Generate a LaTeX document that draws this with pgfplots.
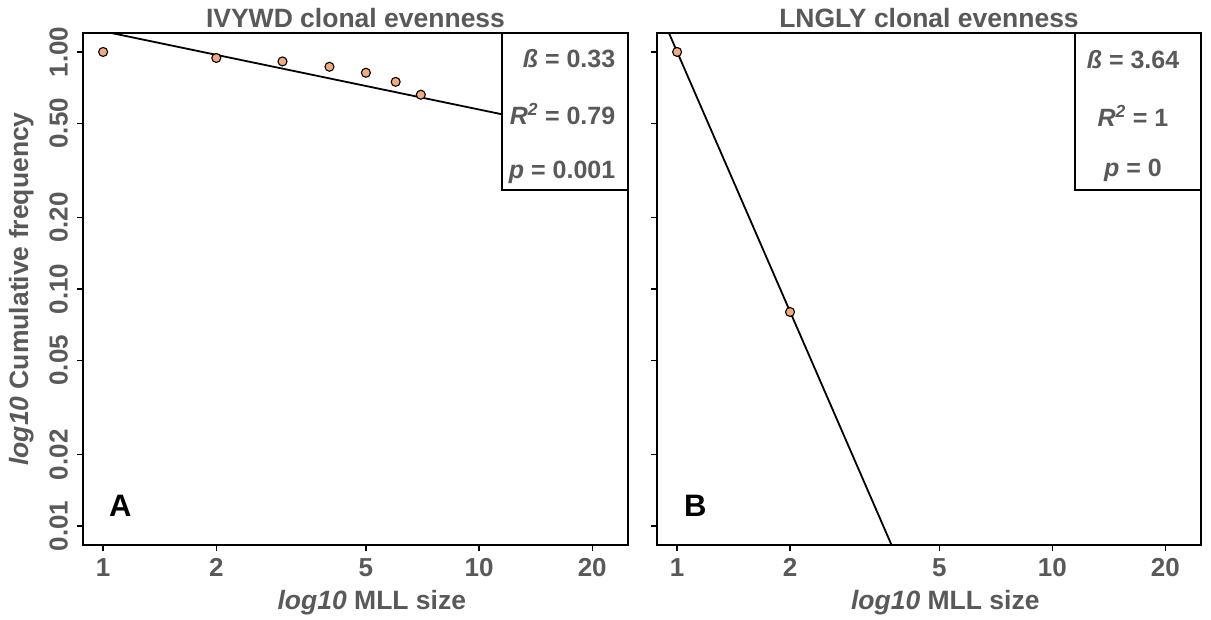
\documentclass[border=0pt]{standalone}
\usepackage{pgfplots}
\pgfplotsset{compat=1.18}
\usepackage{pgfplotstable}
\usepackage{fontspec}
\setmainfont{Liberation Sans}
\definecolor{labgrey}{RGB}{89,89,89}
\definecolor{peach}{RGB}{244,170,125}
\newcommand\fs[1]{\fontsize{#1}{#1}\selectfont}

% cumulative frequency of MLL sizes
\pgfplotstableread{
x y
1 1.000
2 0.943
3 0.912
4 0.866
5 0.817
6 0.748
7 0.660
}\ivywdpts
% fitted power law, slope -0.33
\pgfplotstableread{
x y
0.884 1.273
24.9 0.423
}\ivywdfit
\pgfplotstableread{
x y
1 1.000
2 0.080
}\lnglypts
% fitted power law, slope -3.64
\pgfplotstableread{
x y
0.884 1.569
4.0 0.00644
}\lnglyfit

\begin{document}
\begin{tikzpicture}[x=1pt,y=1pt]
\path (0,0) rectangle (1211,619);

\begin{axis}[at={(83pt,74pt)}, anchor=south west,
    xmode=log, ymode=log,
    scale only axis, width=545pt, height=512pt,
    xmin=0.884, xmax=24.9, ymin=0.00832, ymax=1.202,
    xtick={1,2,5,10,20}, xticklabels={1,2,5,10,20},
    ytick={0.01,0.02,0.05,0.1,0.2,0.5,1},
    yticklabels={0.01,0.02,0.05,0.10,0.20,0.50,1.00},
    xminorticks=false, yminorticks=false,
    xtick pos=left, ytick pos=left,
    tick align=outside, major tick length=6pt,
    major tick style={black, line width=1.3pt},
    axis line style={line width=2pt},
    tick label style={font=\fs{26}\bfseries, text=labgrey},
    yticklabel style={xshift=-9pt, rotate=90, anchor=south, inner sep=0pt},
    xticklabel style={anchor=north, inner sep=0pt, yshift=-7pt},
    clip mode=individual,
    title style={at={(axis description cs:0.5,1)}, anchor=base, yshift=0pt,
      font=\fs{26.5}\bfseries, text=labgrey},
    xlabel style={at={(axis description cs:0.53,0)}, anchor=base, yshift=-64pt,
      font=\fs{26.5}\bfseries, text=labgrey},
    ylabel style={at={(axis description cs:-0.1009,0.5)}, rotate=0, anchor=base,
      font=\fs{26.5}\bfseries, text=labgrey},
    title={IVYWD clonal evenness},
    xlabel={\textit{log10} MLL size},
    ylabel={\textit{log10} Cumulative frequency}]
\addplot[black, line width=1.8pt, no markers] table {\ivywdfit};
\addplot[only marks, mark=*, mark size=4.5pt,
    mark options={fill=peach, draw=black, line width=1.1pt}] table {\ivywdpts};
\draw[fill=white, line width=1.5pt] (rel axis cs:0.769,0.693) rectangle (rel axis cs:1,1);
\node[font=\fs{25}\bfseries, text=labgrey, anchor=base east, inner sep=0pt]
  at (rel axis cs:0.977,0.9326) {\textit{ß} = 0.33};
\node[font=\fs{25}\bfseries, text=labgrey, anchor=base east, inner sep=0pt]
  at (rel axis cs:0.977,0.8213) {\textit{R}\textsuperscript{\textit{2}} = 0.79};
\node[font=\fs{25}\bfseries, text=labgrey, anchor=base east, inner sep=0pt]
  at (rel axis cs:0.977,0.7158) {\textit{p} = 0.001};
\node[anchor=base west, font=\fs{31}\bfseries, inner sep=0pt] at (rel axis cs:0.0477,0.0547) {A};
\end{axis}

\begin{axis}[at={(657pt,74pt)}, anchor=south west,
    xmode=log, ymode=log,
    scale only axis, width=544pt, height=512pt,
    xmin=0.884, xmax=24.9, ymin=0.00832, ymax=1.202,
    xtick={1,2,5,10,20}, xticklabels={1,2,5,10,20},
    ytick={0.01,0.02,0.05,0.1,0.2,0.5,1},
    yticklabels={},
    xminorticks=false, yminorticks=false,
    xtick pos=left, ytick pos=left,
    tick align=outside, major tick length=6pt,
    major tick style={black, line width=1.3pt},
    axis line style={line width=2pt},
    tick label style={font=\fs{26}\bfseries, text=labgrey},
    xticklabel style={anchor=north, inner sep=0pt, yshift=-7pt},
    clip mode=individual,
    title style={at={(axis description cs:0.5,1)}, anchor=base, yshift=0pt,
      font=\fs{26.5}\bfseries, text=labgrey},
    xlabel style={at={(axis description cs:0.53,0)}, anchor=base, yshift=-64pt,
      font=\fs{26.5}\bfseries, text=labgrey},
    title={LNGLY clonal evenness},
    xlabel={\textit{log10} MLL size}]
\addplot[black, line width=1.8pt, no markers] table {\lnglyfit};
\addplot[only marks, mark=*, mark size=4.5pt,
    mark options={fill=peach, draw=black, line width=1.1pt}] table {\lnglypts};
\draw[fill=white, line width=1.5pt] (rel axis cs:0.768,0.693) rectangle (rel axis cs:1,1);
\node[font=\fs{25}\bfseries, text=labgrey, anchor=base, inner sep=0pt]
  at (rel axis cs:0.875,0.9307) {\textit{ß} = 3.64};
\node[font=\fs{25}\bfseries, text=labgrey, anchor=base, inner sep=0pt]
  at (rel axis cs:0.875,0.8174) {\textit{R}\textsuperscript{\textit{2}} = 1};
\node[font=\fs{25}\bfseries, text=labgrey, anchor=base, inner sep=0pt]
  at (rel axis cs:0.875,0.7197) {\textit{p} = 0};
\node[anchor=base west, font=\fs{31}\bfseries, inner sep=0pt] at (rel axis cs:0.0496,0.0547) {B};
\end{axis}
\end{tikzpicture}
\end{document}
